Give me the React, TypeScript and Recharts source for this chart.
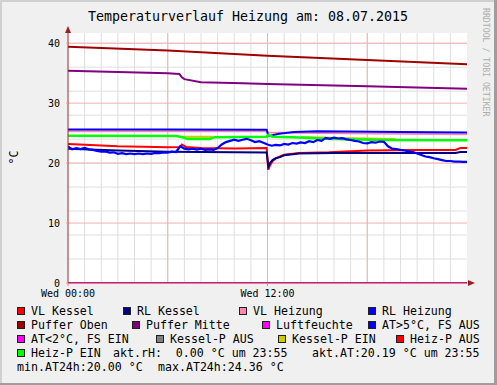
import React from 'react';
import { LineChart, Line, XAxis, YAxis, CartesianGrid } from 'recharts';

const TITLE = 'Temperaturverlauf Heizung am: 08.07.2015';
const Y_UNIT = '°C';
const WATERMARK = 'RRDTOOL / TOBI OETIKER';
const Y_TICKS = [0, 10, 20, 30, 40];
const X_TICKS = [0, 12];
const X_TICK_LABELS = ['Wed 00:00', 'Wed 12:00'];

// time in hours since Wed 00:00
const vlKesselT = [0, 3, 6, 6.75, 6.85, 7.1, 8, 10, 11.95, 12.05, 12.15, 12.3, 12.5, 12.75, 13, 13.9, 15.7, 18, 21, 23.3, 23.6, 24];
const vlKesselV = [23.2, 22.8, 22.65, 22.7, 23.1, 22.7, 22.5, 22.45, 22.5, 18.9, 19.6, 20.3, 20.8, 21.1, 21.4, 21.7, 21.8, 22.1, 22.2, 22.2, 22.5, 22.5];

const rlKesselT = [0, 3, 6, 10, 11.95, 12.05, 12.15, 12.3, 12.5, 12.75, 13, 13.9, 16, 20, 23.3, 23.6, 24];
const rlKesselV = [22.4, 22.1, 21.9, 21.8, 21.75, 19.4, 20.0, 20.5, 20.8, 21.0, 21.3, 21.6, 21.7, 21.7, 21.7, 21.85, 21.85];

const vlHeizungT = [0, 11.95, 12.05, 15, 20, 24];
const vlHeizungV = [25.3, 25.3, 25.1, 25.0, 24.9, 24.8];

const rlHeizungT = [0, 6, 11.95, 12.05, 12.7, 13.6, 15, 20, 24];
const rlHeizungV = [25.6, 25.6, 25.55, 24.5, 24.9, 25.2, 25.3, 25.2, 25.1];

const pufferObenT = [0, 6, 12, 18, 24];
const pufferObenV = [39.4, 38.8, 37.9, 37.2, 36.5];

const pufferMitteT = [0, 3, 6, 6.7, 6.85, 7.0, 8, 10.5, 12, 18, 24];
const pufferMitteV = [35.4, 35.2, 35.0, 34.85, 34.3, 34.0, 33.5, 33.3, 33.2, 32.8, 32.4];

const luftT = [0, 24];
const luftV = [0, 0];

const kesselPEinT = [6.9, 8.7, 8.75, 14, 16.5, 19.7];
const kesselPEinV: (number | null)[] = [24.4, 24.4, null, 24.35, 24.2, 24.0];

const heizPEinT = [0, 6.5, 6.9, 7.2, 8.5, 8.8, 11.95, 12.05, 12.3, 13.5, 16, 19, 24];
const heizPEinV = [24.55, 24.5, 24.3, 24.0, 24.0, 24.3, 24.4, 24.7, 24.4, 24.3, 24.0, 23.85, 23.8];

const atT = [
  0, 0.25, 0.5, 0.75, 1, 1.25, 1.5, 1.75, 2, 2.25, 2.5, 2.75, 3, 3.25, 3.5, 3.75,
  4, 4.25, 4.5, 4.75, 5, 5.25, 5.5, 5.75, 6, 6.25, 6.5, 6.75, 7, 7.25, 7.5, 7.75,
  8, 8.25, 8.5, 8.75, 9, 9.25, 9.5, 9.75, 10, 10.25, 10.5, 10.75, 11, 11.25, 11.5, 11.75,
  12, 12.25, 12.5, 12.75, 13, 13.25, 13.5, 13.75, 14, 14.25, 14.5, 14.75, 15, 15.25, 15.5, 15.75,
  16, 16.25, 16.5, 16.75, 17, 17.25, 17.5, 17.75, 18, 18.25, 18.5, 18.75, 19, 19.25, 19.5, 19.75,
  20, 20.25, 20.5, 20.75, 21, 21.25, 21.5, 21.75, 22, 22.25, 22.5, 22.75, 23, 23.25, 23.5, 23.75, 24,
];
const atV = [
  22.8, 22.3, 22.5, 22.35, 22.55, 22.3, 22.2, 22.05, 21.9, 21.95, 21.75, 21.8, 21.55, 21.65, 21.5, 21.6,
  21.5, 21.6, 21.5, 21.6, 21.55, 21.7, 21.65, 21.8, 21.75, 21.9, 21.85, 22.8, 22.4, 22.3, 22.4, 22.25,
  22.4, 22.2, 22.3, 22.2, 22.5, 23.1, 23.5, 23.7, 23.9, 23.7, 23.9, 24.05, 23.8, 23.5, 23.65, 23.4,
  23.1, 22.9, 23.05, 22.95, 23.2, 23.1, 23.35, 23.25, 23.45, 23.35, 23.65, 23.5, 23.85, 23.7, 24.2, 24.05,
  24.25, 24.1, 24.15, 23.95, 23.85, 23.7, 23.6, 23.35, 23.3, 23.5, 23.4, 23.6, 23.55, 22.8, 22.4, 22.35,
  22.2, 22.1, 21.95, 21.85, 21.6, 21.35, 21.1, 21.0, 20.8, 20.65, 20.5, 20.35, 20.35, 20.25, 20.25, 20.2, 20.2,
];

const legendNames = ['VL Kessel', 'RL Kessel', 'VL Heizung', 'RL Heizung', 'Puffer Oben', 'Puffer Mitte', 'Luftfeuchte', 'AT>5°C, FS AUS', 'AT<2°C, FS EIN', 'Kessel-P AUS', 'Kessel-P EIN', 'Heiz-P AUS', 'Heiz-P EIN'];
const legendColors = ['#FF0000', '#000080', '#FF88AA', '#0000FF', '#A00000', '#800080', '#FF00FF', '#0000FF', '#FF00FF', '#808080', '#CCCC00', '#FF0000', '#00FF00'];
const legendPos = [[17, 0], [123, 0], [239, 0], [368, 0], [17, 1], [132, 1], [262, 1], [368, 1], [17, 2], [156, 2], [278, 2], [396, 2], [17, 3]];
const infoTexts = ['akt.rH:  0.00 °C um 23:55', 'akt.AT:20.19 °C um 23:55', 'min.AT24h:20.00 °C', 'max.AT24h:24.36 °C'];
const infoPos = [[113, 3], [312, 3], [17, 4], [158, 4]];

const toData = (t: number[], v: (number | null)[]) => t.map((x, i) => ({ t: x, v: v[i] }));

const MONO = "'DejaVu Sans Mono', monospace";
const minorY = Array.from({ length: 20 }, (_, i) => (i + 1) * 2);
const majorY = [10, 20, 30, 40];
const minorX = Array.from({ length: 23 }, (_, i) => i + 1);
const majorX = [6, 12, 18];

const series = [
  { name: 'VL Kessel', t: vlKesselT, v: vlKesselV, color: '#FF0000', w: 2 },
  { name: 'RL Kessel', t: rlKesselT, v: rlKesselV, color: '#000080', w: 2 },
  { name: 'VL Heizung', t: vlHeizungT, v: vlHeizungV, color: '#FF88AA', w: 2 },
  { name: 'RL Heizung', t: rlHeizungT, v: rlHeizungV, color: '#0000FF', w: 2 },
  { name: 'Puffer Oben', t: pufferObenT, v: pufferObenV, color: '#A00000', w: 2 },
  { name: 'Puffer Mitte', t: pufferMitteT, v: pufferMitteV, color: '#800080', w: 2 },
  { name: 'Luftfeuchte', t: luftT, v: luftV, color: '#FF00FF', w: 2 },
  { name: 'Kessel-P EIN', t: kesselPEinT, v: kesselPEinV, color: '#CCCC00', w: 2 },
  { name: 'Heiz-P EIN', t: heizPEinT, v: heizPEinV, color: '#00FF00', w: 2.5 },
  { name: 'AT>5°C, FS AUS', t: atT, v: atV, color: '#0000FF', w: 2.2 },
];

export default function App() {
  return (
    <div style={{ position: 'absolute', left: 0, top: 0, width: 497, height: 385, background: '#F0F0F0', fontFamily: MONO }}>
      <LineChart width={497} height={385} margin={{ top: 33, right: 30, bottom: 82, left: 8 }}>
        <CartesianGrid fill="#FFFFFF" stroke="#DEDEDE" horizontalValues={minorY} verticalValues={minorX} />
        <CartesianGrid fill="none" stroke="#F2B0B0" horizontalValues={majorY} verticalValues={majorX} />
        <XAxis
          type="number"
          dataKey="t"
          domain={[0, 24]}
          ticks={X_TICKS}
          allowDataOverflow
          height={20}
          tickFormatter={(v: number) => X_TICK_LABELS[X_TICKS.indexOf(v)] ?? ''}
          tick={{ fill: '#000', fontSize: 10, fontFamily: MONO }}
          tickSize={3}
          tickMargin={4}
          tickLine={{ stroke: '#E08080' }}
          axisLine={{ stroke: '#A02828' }}
        />
        <YAxis
          type="number"
          dataKey="v"
          domain={[0, 41.7]}
          ticks={Y_TICKS}
          allowDataOverflow
          width={60}
          tick={{ fill: '#000', fontSize: 10, fontFamily: MONO }}
          tickSize={2}
          tickMargin={6}
          tickLine={{ stroke: '#F0A0A0' }}
          axisLine={{ stroke: '#A02828' }}
        />
        {series.map((s) => (
          <Line
            key={s.name}
            data={toData(s.t, s.v)}
            dataKey="v"
            type="linear"
            stroke={s.color}
            strokeWidth={s.w}
            dot={false}
            activeDot={false}
            isAnimationActive={false}
            connectNulls={false}
          />
        ))}
      </LineChart>
      <svg width={497} height={385} style={{ position: 'absolute', left: 0, top: 0, pointerEvents: 'none' }}>
        <rect x={0} y={0} width={497} height={2} fill="#D0D0D0" />
        <rect x={0} y={0} width={2} height={385} fill="#D0D0D0" />
        <rect x={494} y={0} width={3} height={385} fill="#9E9E9E" />
        <rect x={0} y={383} width={497} height={2} fill="#9E9E9E" />
        <polygon points="65,33 71,33 68,26" fill="#9B2020" />
        <polygon points="468,280 468,286 475,283" fill="#9B2020" />
        <text x={248} y={21} textAnchor="middle" fontSize={13.3} fontFamily={MONO} fill="#000">{TITLE}</text>
        <text x={18} y={157.5} textAnchor="middle" fontSize={11.6} fontFamily={MONO} fill="#000" transform="rotate(-90 18 157.5)">{Y_UNIT}</text>
        <text x={483} y={8} fontSize={8.2} fontFamily={MONO} fill="#ADADAD" transform="rotate(90 483 8)">{WATERMARK}</text>
        {legendNames.map((n, i) => {
          const [x, row] = legendPos[i];
          const base = 315 + row * 14;
          return (
            <g key={n}>
              <rect x={x + 0.5} y={base - 7.5} width={7} height={7} fill={legendColors[i]} stroke="#202020" strokeWidth={1} />
              <text x={x + 14} y={base} fontSize={11.6} fontFamily={MONO} fill="#000" style={{ whiteSpace: 'pre' }}>{n}</text>
            </g>
          );
        })}
        {infoTexts.map((s, i) => {
          const [x, row] = infoPos[i];
          return (
            <text key={s} x={x} y={315 + row * 14} fontSize={11.6} fontFamily={MONO} fill="#000" style={{ whiteSpace: 'pre' }}>{s}</text>
          );
        })}
      </svg>
    </div>
  );
}
